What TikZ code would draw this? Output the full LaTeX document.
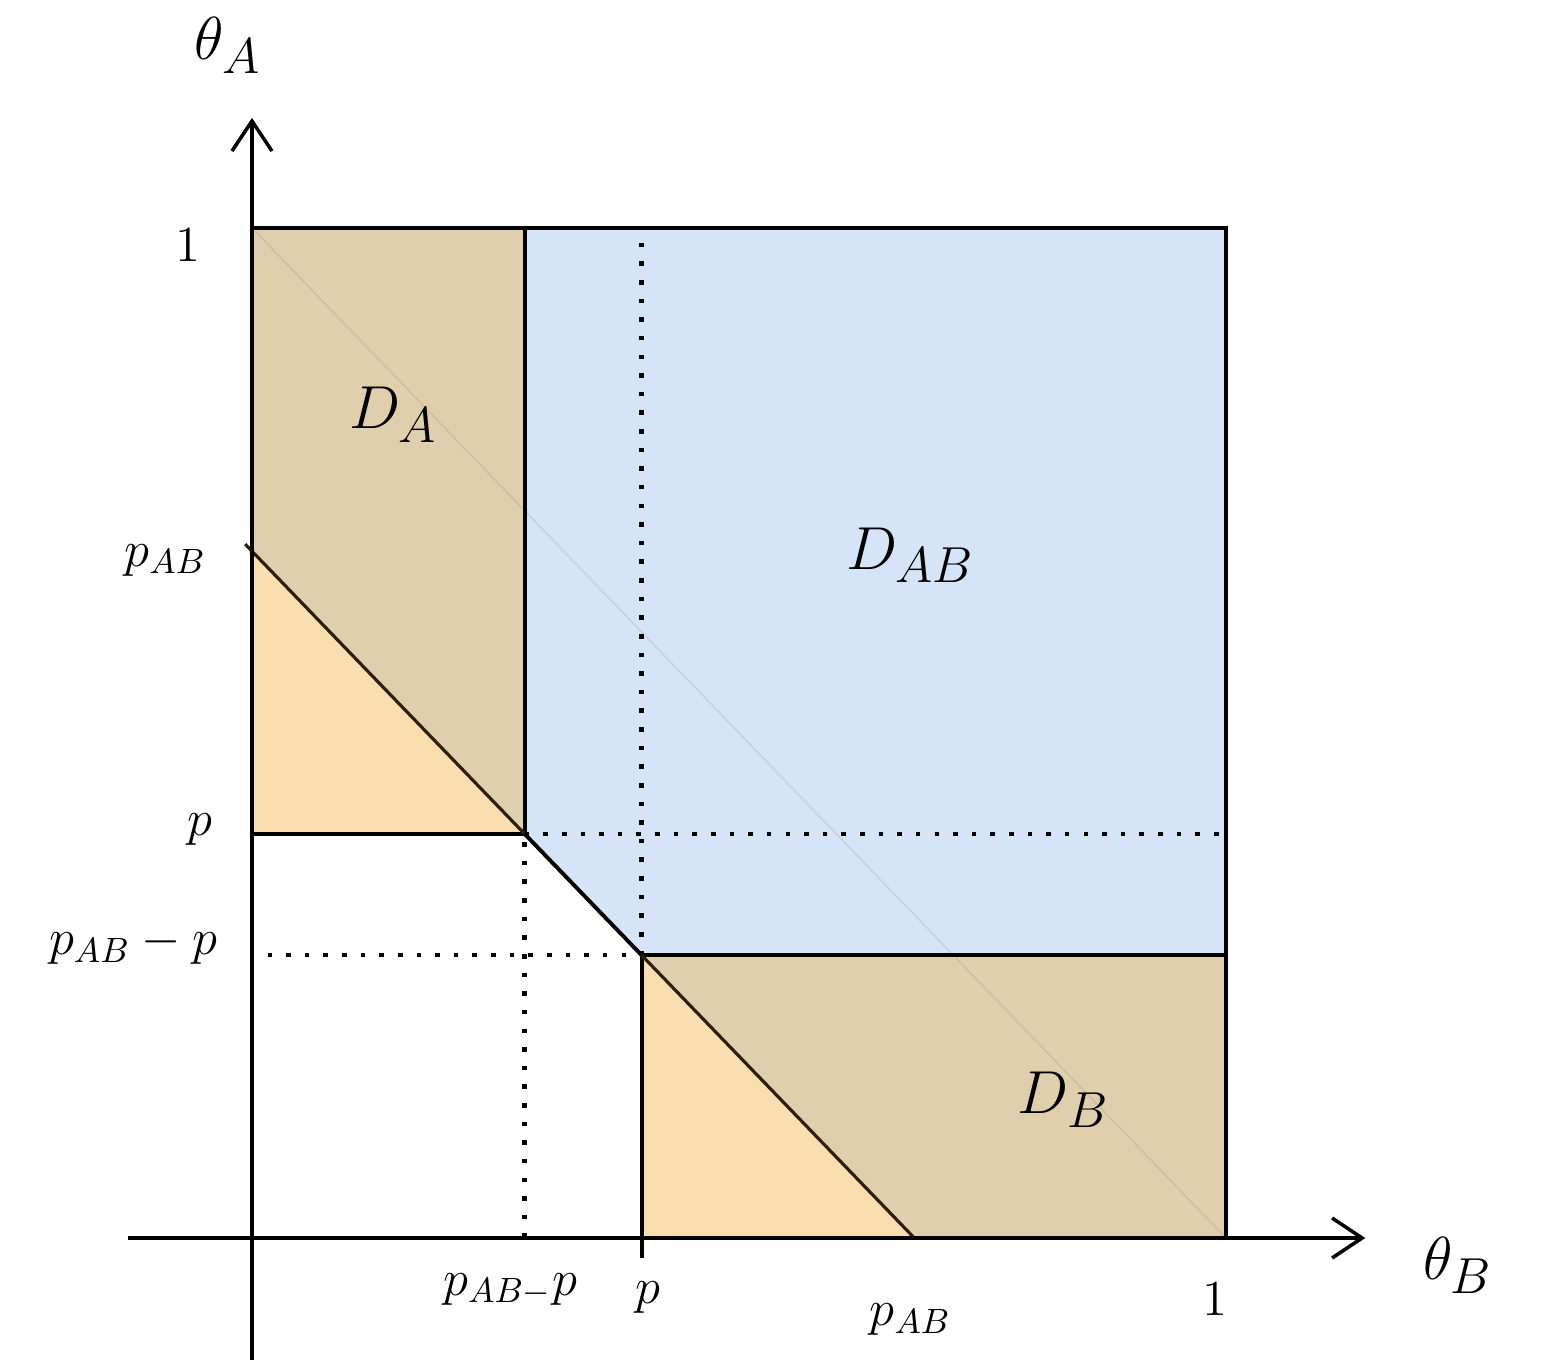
\documentclass[tikz,border=0pt]{standalone}
\usetikzlibrary{arrows.meta}
\definecolor{tanfill}{RGB}{224,207,173}
\definecolor{orangefill}{RGB}{250,222,175}
\definecolor{bluefill}{RGB}{213,228,246}
\definecolor{diagline}{RGB}{45,30,10}

\begin{document}
\begin{tikzpicture}[x=9.74cm,y=10.1cm,
  axis/.style={-{Straight Barb[length=3mm,width=4mm]},line width=1pt},
  edge/.style={line width=1.1pt},
  guide/.style={line width=1.3pt,dash pattern=on 1.3pt off 4pt},
  diag/.style={line width=0.9pt,diagline},
  region/.style={font=\fontsize{19}{22}\selectfont},
  tick/.style={font=\fontsize{14.5}{17}\selectfont,inner sep=1pt}
]
\useasboundingbox (-0.2587,-0.1267) rectangle (1.3244,1.2257);
% corner points
\coordinate (O)   at (0,0);
\coordinate (c01) at (0,1);
\coordinate (c11) at (1,1);
\coordinate (c10) at (1,0);
\coordinate (ap)  at (0,0.4);
\coordinate (a1)  at (0.28,1);
\coordinate (qA)  at (0.28,0.4);
\coordinate (qB)  at (0.4,0.28);
\coordinate (bp)  at (0.4,0);
\coordinate (b1)  at (1,0.28);
\coordinate (ab)  at (0,0.68);
\coordinate (abx) at (-0.007,0.687);
\coordinate (bb)  at (0.68,0);
% regions
\fill[tanfill]    (ap) rectangle (a1);
\fill[orangefill] (ap) -- (ab) -- (qA) -- cycle;
\fill[tanfill]    (bp) rectangle (b1);
\fill[orangefill] (bp) -- (qB) -- (bb) -- cycle;
\fill[bluefill]   (a1) -- (c11) -- (b1) -- (qB) -- (qA) -- cycle;
\draw[black,opacity=0.07,line width=0.5pt] (c01) -- (c10);
% guides
\coordinate (g1) at (0.28,0);
\coordinate (g2) at (0.4,1);
\coordinate (g3) at (1,0.4);
\coordinate (g4) at (0.016,0.28);
\draw[guide] (g1) -- (qA);
\draw[guide] (qB) -- (g2);
\draw[guide] (qA) -- (g3);
\draw[guide] (g4) -- (qB);
% borders
\draw[edge] (c01) -- (c11) -- (c10);
\draw[edge] (ap) -- (qA) -- (a1);
\coordinate (bt) at (0.4,-0.02);
\draw[edge] (bt) -- (qB) -- (b1);
\draw[diag] (abx) -- (qA);
\draw[edge] (qA) -- (qB);
\draw[diag] (qB) -- (bb);
% axes
\coordinate (xs) at (-0.127,0);
\coordinate (xe) at (1.143,0);
\coordinate (ys) at (0,-0.121);
\coordinate (ye) at (0,1.109);
\draw[axis] (xs) -- (xe);
\draw[axis] (ys) -- (ye);
% labels
\node[region] (thA) at (-0.025,1.181) {$\theta_A$};
\node[region] (thB) at (1.238,-0.027) {$\theta_B$};
\node[region] (DA)  at (0.145,0.815) {$D_A$};
\node[region] (DAB) at (0.676,0.676) {$D_{AB}$};
\node[region] (DB)  at (0.833,0.137) {$D_B$};
\node[tick] (y1)   at (-0.066,0.983) {$1$};
\node[tick] (yab)  at (-0.089,0.671) {$p_{AB}$};
\node[tick] (yp)   at (-0.053,0.404) {$p$};
\node[tick] (yabp) at (-0.122,0.290) {$p_{AB}-p$};
\node[tick] (xabp) at (0.265,-0.051) {$p_{AB-}p$};
\node[tick] (xp)   at (0.406,-0.059) {$p$};
\node[tick] (xab)  at (0.676,-0.081) {$p_{AB}$};
\node[tick] (x1)   at (0.989,-0.061) {$1$};
\end{tikzpicture}
\end{document}
